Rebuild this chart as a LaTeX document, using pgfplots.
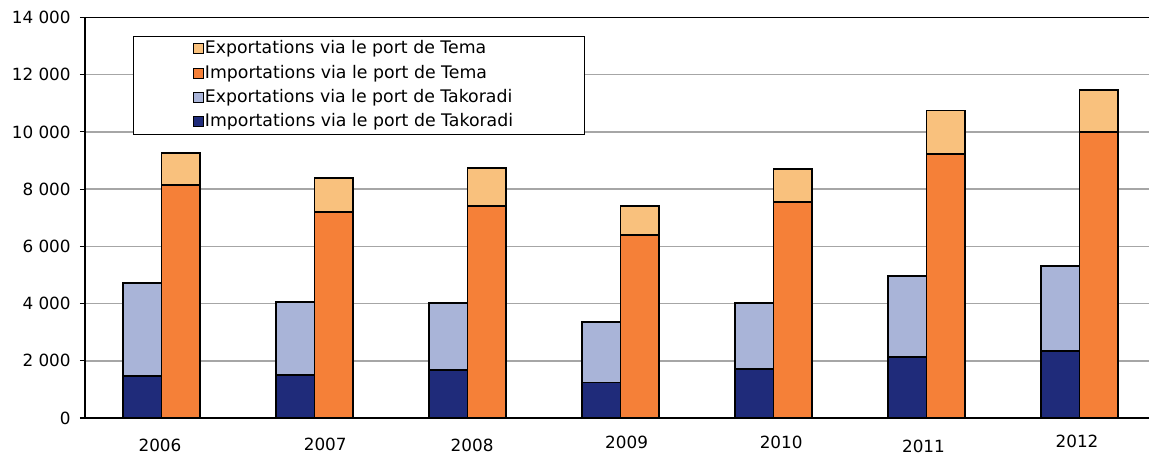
\documentclass[border=0pt]{standalone}
\usepackage{fontspec}
\setmainfont{DejaVu Sans}
\usepackage{pgfplots}
\pgfplotsset{compat=1.18}
\usepackage{pgfplotstable}
\definecolor{dblue}{RGB}{31,43,122}
\definecolor{lblue}{RGB}{169,180,216}
\definecolor{dorange}{RGB}{245,128,56}
\definecolor{lorange}{RGB}{249,193,125}
\definecolor{gridgray}{RGB}{166,166,166}

\pgfplotstableread{
x timp texp temaimp temaexp
0 1460 3260 8130 1140
1 1500 2550 7210 1170
2 1670 2340 7400 1340
3 1240 2120 6410 990
4 1710 2300 7540 1175
5 2130 2830 9220 1530
6 2350 2970 9990 1470
}\data

\newcommand{\lblfont}{\fontsize{12.6}{15}\selectfont}
\newcommand{\legfont}{\fontsize{13}{15}\selectfont}

\pgfplotsset{common/.style={
  scale only axis, width=803.25pt, height=300.4pt,
  at={(63.75pt,30.75pt)}, anchor=south west,
  xmin=-0.5, xmax=6.5, ymin=0, ymax=14000,
  clip=false,
}}

\begin{document}
\begin{tikzpicture}
\begin{axis}[common,
  ybar stacked, bar width=0.25, bar shift=-0.125,
  axis x line*=bottom, axis y line*=left,
  axis line style={black, line width=1.5pt, -},
  tick align=outside,
  major tick length=3.75pt,
  scaled y ticks=false,
  ytick={0,2000,4000,6000,8000,10000,12000,14000},
  yticklabels={0,2\ 000,4\ 000,6\ 000,8\ 000,10\ 000,12\ 000,14\ 000},
  ymajorgrids, grid style={gridgray, line width=1.1pt},
  y tick style={black, line width=0.8pt},
  xtick={-0.01,1.07,2.03,3.04,4.05,4.98,5.984},
  xticklabels={\raisebox{0.75pt}{2006},\raisebox{1.7pt}{2007},\raisebox{0.75pt}{2008},\raisebox{3pt}{2009},\raisebox{3pt}{2010},\raisebox{0pt}{2011},\raisebox{3.75pt}{2012}},
  x tick style={draw=none},
  yticklabel style={font=\lblfont, anchor=east, xshift=-3.5pt},
  xticklabel style={font=\lblfont, anchor=north, text height=9.5pt, text depth=0pt, yshift=-9pt},
  after end axis/.code={\draw[black, line width=0.9pt] (rel axis cs:0,1) -- (rel axis cs:1,1);},
]
\addplot[fill=dblue, draw=black, line width=1.4pt] table[x=x, y=timp] {\data};
\addplot[fill=lblue, draw=black, line width=1.4pt] table[x=x, y=texp] {\data};
\end{axis}
\begin{axis}[common,
  ybar stacked, bar width=0.25, bar shift=0.125,
  axis x line*=bottom, axis y line=none,
  axis line style={black, line width=1.5pt, -},
  tick align=inside,
  xtick=\empty, ytick=\empty,
  minor xtick={0.5,1.5,2.5,3.5,4.5,5.5,6.5},
  minor tick length=4pt,
  minor x tick style={black, line width=0.8pt},
  reverse legend,
  legend cell align=left,
  legend image code/.code={\draw[#1, draw=black, line width=0.8pt] (0pt,-3.4pt) rectangle (7.5pt,4.1pt);},
  legend style={at={(0.0451,0.9538)}, anchor=north west, draw=black, line width=0.8pt, fill=white,
    font=\legfont, inner xsep=44pt, inner ysep=2.5pt, row sep=4pt,
    nodes={inner sep=1pt, text height=9.5pt, text depth=2.7pt}},
]
\addlegendimage{fill=dblue}
\addlegendentry{\makebox[240pt][l]{Importations via le port de Takoradi}}
\addlegendimage{fill=lblue}
\addlegendentry{Exportations via le port de Takoradi}
\addplot[fill=dorange, draw=black, line width=1.4pt] table[x=x, y=temaimp] {\data};
\addlegendentry{Importations via le port de Tema}
\addplot[fill=lorange, draw=black, line width=1.4pt] table[x=x, y=temaexp] {\data};
\addlegendentry{Exportations via le port de Tema}
\end{axis}
\pgfresetboundingbox
\useasboundingbox (0,0) rectangle (861.75pt,344.25pt);
\end{tikzpicture}
\end{document}
